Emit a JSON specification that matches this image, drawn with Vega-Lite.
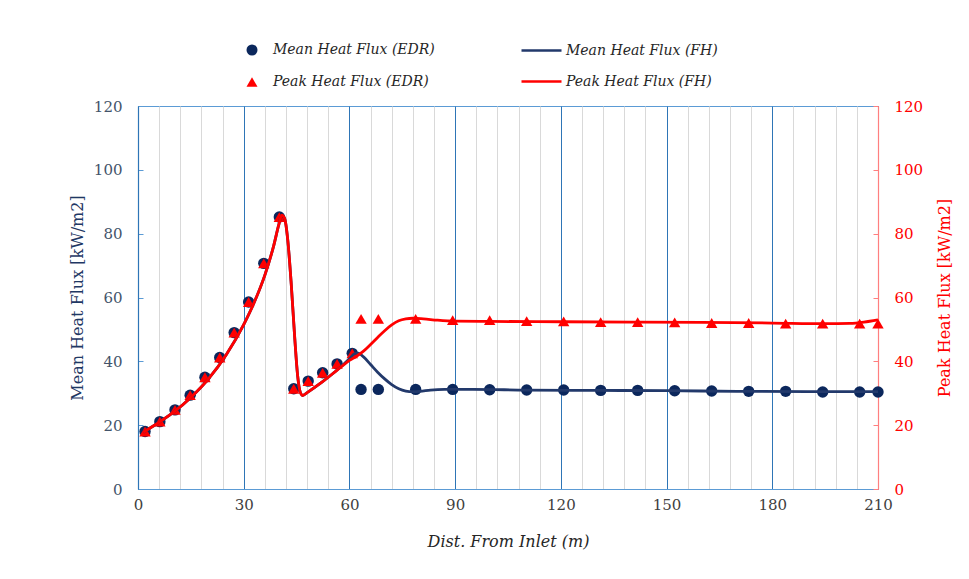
{
  "$schema": "https://vega.github.io/schema/vega-lite/v6.json",
  "width": 740,
  "height": 383,
  "autosize": "none",
  "padding": {"left": 138, "top": 106, "right": 91, "bottom": 90},
  "background": "white",
  "config": {
    "view": {"stroke": "#5B9BD5", "strokeWidth": 1},
    "font": "DejaVu Serif"
  },
  "datasets": {
    "edr": [
      {"x": 2, "y": 18, "series": "Mean Heat Flux (EDR)"},
      {"x": 6.2, "y": 21.1, "series": "Mean Heat Flux (EDR)"},
      {"x": 10.5, "y": 24.8, "series": "Mean Heat Flux (EDR)"},
      {"x": 14.8, "y": 29.4, "series": "Mean Heat Flux (EDR)"},
      {"x": 19, "y": 35, "series": "Mean Heat Flux (EDR)"},
      {"x": 23.2, "y": 41.2, "series": "Mean Heat Flux (EDR)"},
      {"x": 27.3, "y": 49, "series": "Mean Heat Flux (EDR)"},
      {"x": 31.4, "y": 58.6, "series": "Mean Heat Flux (EDR)"},
      {"x": 35.7, "y": 70.7, "series": "Mean Heat Flux (EDR)"},
      {"x": 40.1, "y": 85.2, "series": "Mean Heat Flux (EDR)"},
      {"x": 44.2, "y": 31.4, "series": "Mean Heat Flux (EDR)"},
      {"x": 48.3, "y": 33.8, "series": "Mean Heat Flux (EDR)"},
      {"x": 52.4, "y": 36.4, "series": "Mean Heat Flux (EDR)"},
      {"x": 56.5, "y": 39.2, "series": "Mean Heat Flux (EDR)"},
      {"x": 60.8, "y": 42.5, "series": "Mean Heat Flux (EDR)"},
      {"x": 63.3, "y": 31.2, "series": "Mean Heat Flux (EDR)"},
      {"x": 68.2, "y": 31.2, "series": "Mean Heat Flux (EDR)"},
      {"x": 78.8, "y": 31.2, "series": "Mean Heat Flux (EDR)"},
      {"x": 89.3, "y": 31.2, "series": "Mean Heat Flux (EDR)"},
      {"x": 99.8, "y": 31.1, "series": "Mean Heat Flux (EDR)"},
      {"x": 110.3, "y": 31, "series": "Mean Heat Flux (EDR)"},
      {"x": 120.8, "y": 31, "series": "Mean Heat Flux (EDR)"},
      {"x": 131.3, "y": 30.9, "series": "Mean Heat Flux (EDR)"},
      {"x": 141.8, "y": 30.9, "series": "Mean Heat Flux (EDR)"},
      {"x": 152.3, "y": 30.8, "series": "Mean Heat Flux (EDR)"},
      {"x": 162.8, "y": 30.7, "series": "Mean Heat Flux (EDR)"},
      {"x": 173.3, "y": 30.6, "series": "Mean Heat Flux (EDR)"},
      {"x": 183.8, "y": 30.6, "series": "Mean Heat Flux (EDR)"},
      {"x": 194.3, "y": 30.4, "series": "Mean Heat Flux (EDR)"},
      {"x": 204.8, "y": 30.4, "series": "Mean Heat Flux (EDR)"},
      {"x": 210, "y": 30.4, "series": "Mean Heat Flux (EDR)"},
      {"x": 2, "y": 18, "series": "Peak Heat Flux (EDR)"},
      {"x": 6.2, "y": 21.1, "series": "Peak Heat Flux (EDR)"},
      {"x": 10.5, "y": 24.8, "series": "Peak Heat Flux (EDR)"},
      {"x": 14.8, "y": 29.4, "series": "Peak Heat Flux (EDR)"},
      {"x": 19, "y": 35, "series": "Peak Heat Flux (EDR)"},
      {"x": 23.2, "y": 41.2, "series": "Peak Heat Flux (EDR)"},
      {"x": 27.3, "y": 49, "series": "Peak Heat Flux (EDR)"},
      {"x": 31.4, "y": 58.6, "series": "Peak Heat Flux (EDR)"},
      {"x": 35.7, "y": 70.7, "series": "Peak Heat Flux (EDR)"},
      {"x": 40.1, "y": 85.2, "series": "Peak Heat Flux (EDR)"},
      {"x": 44.2, "y": 31.4, "series": "Peak Heat Flux (EDR)"},
      {"x": 48.3, "y": 33.8, "series": "Peak Heat Flux (EDR)"},
      {"x": 52.4, "y": 36.4, "series": "Peak Heat Flux (EDR)"},
      {"x": 56.5, "y": 39.2, "series": "Peak Heat Flux (EDR)"},
      {"x": 60.8, "y": 42.5, "series": "Peak Heat Flux (EDR)"},
      {"x": 63.3, "y": 53.3, "series": "Peak Heat Flux (EDR)"},
      {"x": 68.2, "y": 53.3, "series": "Peak Heat Flux (EDR)"},
      {"x": 78.8, "y": 53.3, "series": "Peak Heat Flux (EDR)"},
      {"x": 89.3, "y": 52.9, "series": "Peak Heat Flux (EDR)"},
      {"x": 99.8, "y": 52.9, "series": "Peak Heat Flux (EDR)"},
      {"x": 110.3, "y": 52.6, "series": "Peak Heat Flux (EDR)"},
      {"x": 120.8, "y": 52.5, "series": "Peak Heat Flux (EDR)"},
      {"x": 131.3, "y": 52.3, "series": "Peak Heat Flux (EDR)"},
      {"x": 141.8, "y": 52.3, "series": "Peak Heat Flux (EDR)"},
      {"x": 152.3, "y": 52.2, "series": "Peak Heat Flux (EDR)"},
      {"x": 162.8, "y": 52, "series": "Peak Heat Flux (EDR)"},
      {"x": 173.3, "y": 52, "series": "Peak Heat Flux (EDR)"},
      {"x": 183.8, "y": 51.8, "series": "Peak Heat Flux (EDR)"},
      {"x": 194.3, "y": 51.8, "series": "Peak Heat Flux (EDR)"},
      {"x": 204.8, "y": 51.8, "series": "Peak Heat Flux (EDR)"},
      {"x": 210, "y": 51.8, "series": "Peak Heat Flux (EDR)"}
    ],
    "fh": [
      {"x": 1.5, "y": 17.8, "series": "Mean Heat Flux (FH)"},
      {"x": 5, "y": 20.2, "series": "Mean Heat Flux (FH)"},
      {"x": 10, "y": 24, "series": "Mean Heat Flux (FH)"},
      {"x": 15, "y": 28.7, "series": "Mean Heat Flux (FH)"},
      {"x": 20, "y": 34.5, "series": "Mean Heat Flux (FH)"},
      {"x": 25, "y": 42, "series": "Mean Heat Flux (FH)"},
      {"x": 30, "y": 51.5, "series": "Mean Heat Flux (FH)"},
      {"x": 33, "y": 58.5, "series": "Mean Heat Flux (FH)"},
      {"x": 36, "y": 67, "series": "Mean Heat Flux (FH)"},
      {"x": 38.5, "y": 76.2, "series": "Mean Heat Flux (FH)"},
      {"x": 40, "y": 83, "series": "Mean Heat Flux (FH)"},
      {"x": 40.8, "y": 85.8, "series": "Mean Heat Flux (FH)"},
      {"x": 41.6, "y": 84.8, "series": "Mean Heat Flux (FH)"},
      {"x": 42.5, "y": 78, "series": "Mean Heat Flux (FH)"},
      {"x": 43.5, "y": 64, "series": "Mean Heat Flux (FH)"},
      {"x": 44.5, "y": 47, "series": "Mean Heat Flux (FH)"},
      {"x": 45.3, "y": 35.5, "series": "Mean Heat Flux (FH)"},
      {"x": 46, "y": 30.5, "series": "Mean Heat Flux (FH)"},
      {"x": 46.7, "y": 29.3, "series": "Mean Heat Flux (FH)"},
      {"x": 48, "y": 30.2, "series": "Mean Heat Flux (FH)"},
      {"x": 52, "y": 33.3, "series": "Mean Heat Flux (FH)"},
      {"x": 56, "y": 36.8, "series": "Mean Heat Flux (FH)"},
      {"x": 58, "y": 38.7, "series": "Mean Heat Flux (FH)"},
      {"x": 60, "y": 40.8, "series": "Mean Heat Flux (FH)"},
      {"x": 61.5, "y": 42.4, "series": "Mean Heat Flux (FH)"},
      {"x": 62.5, "y": 42.6, "series": "Mean Heat Flux (FH)"},
      {"x": 64, "y": 41.4, "series": "Mean Heat Flux (FH)"},
      {"x": 66, "y": 39, "series": "Mean Heat Flux (FH)"},
      {"x": 68, "y": 36.6, "series": "Mean Heat Flux (FH)"},
      {"x": 70, "y": 34.5, "series": "Mean Heat Flux (FH)"},
      {"x": 72, "y": 32.7, "series": "Mean Heat Flux (FH)"},
      {"x": 74, "y": 31.4, "series": "Mean Heat Flux (FH)"},
      {"x": 76, "y": 30.7, "series": "Mean Heat Flux (FH)"},
      {"x": 78, "y": 30.5, "series": "Mean Heat Flux (FH)"},
      {"x": 80, "y": 30.6, "series": "Mean Heat Flux (FH)"},
      {"x": 83, "y": 31, "series": "Mean Heat Flux (FH)"},
      {"x": 87, "y": 31.2, "series": "Mean Heat Flux (FH)"},
      {"x": 95, "y": 31.2, "series": "Mean Heat Flux (FH)"},
      {"x": 110, "y": 31, "series": "Mean Heat Flux (FH)"},
      {"x": 130, "y": 30.9, "series": "Mean Heat Flux (FH)"},
      {"x": 150, "y": 30.8, "series": "Mean Heat Flux (FH)"},
      {"x": 170, "y": 30.6, "series": "Mean Heat Flux (FH)"},
      {"x": 190, "y": 30.5, "series": "Mean Heat Flux (FH)"},
      {"x": 210, "y": 30.5, "series": "Mean Heat Flux (FH)"},
      {"x": 1.5, "y": 17.8, "series": "Peak Heat Flux (FH)"},
      {"x": 5, "y": 20.2, "series": "Peak Heat Flux (FH)"},
      {"x": 10, "y": 24, "series": "Peak Heat Flux (FH)"},
      {"x": 15, "y": 28.7, "series": "Peak Heat Flux (FH)"},
      {"x": 20, "y": 34.5, "series": "Peak Heat Flux (FH)"},
      {"x": 25, "y": 42, "series": "Peak Heat Flux (FH)"},
      {"x": 30, "y": 51.5, "series": "Peak Heat Flux (FH)"},
      {"x": 33, "y": 58.5, "series": "Peak Heat Flux (FH)"},
      {"x": 36, "y": 67, "series": "Peak Heat Flux (FH)"},
      {"x": 38.5, "y": 76.2, "series": "Peak Heat Flux (FH)"},
      {"x": 40, "y": 83, "series": "Peak Heat Flux (FH)"},
      {"x": 40.8, "y": 85.8, "series": "Peak Heat Flux (FH)"},
      {"x": 41.6, "y": 84.8, "series": "Peak Heat Flux (FH)"},
      {"x": 42.5, "y": 78, "series": "Peak Heat Flux (FH)"},
      {"x": 43.5, "y": 64, "series": "Peak Heat Flux (FH)"},
      {"x": 44.5, "y": 47, "series": "Peak Heat Flux (FH)"},
      {"x": 45.3, "y": 35.5, "series": "Peak Heat Flux (FH)"},
      {"x": 46, "y": 30.5, "series": "Peak Heat Flux (FH)"},
      {"x": 46.7, "y": 29.3, "series": "Peak Heat Flux (FH)"},
      {"x": 48, "y": 30.2, "series": "Peak Heat Flux (FH)"},
      {"x": 52, "y": 33.3, "series": "Peak Heat Flux (FH)"},
      {"x": 56, "y": 36.8, "series": "Peak Heat Flux (FH)"},
      {"x": 58, "y": 38.6, "series": "Peak Heat Flux (FH)"},
      {"x": 60, "y": 40.3, "series": "Peak Heat Flux (FH)"},
      {"x": 62, "y": 41.6, "series": "Peak Heat Flux (FH)"},
      {"x": 64, "y": 43.2, "series": "Peak Heat Flux (FH)"},
      {"x": 66, "y": 45.3, "series": "Peak Heat Flux (FH)"},
      {"x": 68, "y": 47.5, "series": "Peak Heat Flux (FH)"},
      {"x": 70, "y": 49.6, "series": "Peak Heat Flux (FH)"},
      {"x": 72, "y": 51.4, "series": "Peak Heat Flux (FH)"},
      {"x": 74, "y": 52.7, "series": "Peak Heat Flux (FH)"},
      {"x": 76, "y": 53.3, "series": "Peak Heat Flux (FH)"},
      {"x": 78, "y": 53.5, "series": "Peak Heat Flux (FH)"},
      {"x": 81, "y": 53.3, "series": "Peak Heat Flux (FH)"},
      {"x": 85, "y": 52.9, "series": "Peak Heat Flux (FH)"},
      {"x": 90, "y": 52.6, "series": "Peak Heat Flux (FH)"},
      {"x": 100, "y": 52.5, "series": "Peak Heat Flux (FH)"},
      {"x": 120, "y": 52.4, "series": "Peak Heat Flux (FH)"},
      {"x": 140, "y": 52.3, "series": "Peak Heat Flux (FH)"},
      {"x": 160, "y": 52.2, "series": "Peak Heat Flux (FH)"},
      {"x": 180, "y": 52, "series": "Peak Heat Flux (FH)"},
      {"x": 195, "y": 51.8, "series": "Peak Heat Flux (FH)"},
      {"x": 202, "y": 51.9, "series": "Peak Heat Flux (FH)"},
      {"x": 206, "y": 52.3, "series": "Peak Heat Flux (FH)"},
      {"x": 210, "y": 53, "series": "Peak Heat Flux (FH)"}
    ]
  },
  "encoding": {
    "x": {
      "field": "x",
      "type": "quantitative",
      "scale": {"domain": [0, 210], "nice": false, "zero": false},
      "axis": {
        "title": "Dist. From Inlet (m)",
        "values": [0, 6, 12, 18, 24, 30, 36, 42, 48, 54, 60, 66, 72, 78, 84, 90, 96, 102, 108, 114, 120, 126, 132, 138, 144, 150, 156, 162, 168, 174, 180, 186, 192, 198, 204, 210],
        "labelExpr": "datum.value % 30 === 0 ? datum.label : ''",
        "grid": true,
        "gridColor": {"condition": {"test": "datum.value % 30 === 0", "value": "#2E75B6"}, "value": "#D9D9D9"},
        "gridWidth": 1,
        "ticks": false,
        "domainColor": "#5B9BD5",
        "domainWidth": 1.2,
        "labelFont": "DejaVu Serif",
        "labelFontSize": 15,
        "labelColor": "#404040",
        "labelPadding": 8,
        "labelFlush": false,
        "labelOverlap": false,
        "titleFont": "DejaVu Serif",
        "titleFontStyle": "italic",
        "titleFontWeight": "normal",
        "titleFontSize": 16,
        "titleColor": "#262626",
        "titleX": 370,
        "titleY": 52,
        "titleBaseline": "middle",
        "titleAlign": "center"
      }
    }
  },
  "layer": [
    {
      "data": {"name": "edr"},
      "mark": {"type": "point", "filled": true, "opacity": 1, "size": 130},
      "encoding": {
        "y": {
          "field": "y",
          "type": "quantitative",
          "scale": {"domain": [0, 120], "nice": false},
          "axis": {
            "orient": "left",
            "title": "Mean Heat Flux [kW/m2]",
            "values": [0, 20, 40, 60, 80, 100, 120],
            "grid": false,
            "domainColor": "#2E75B6",
            "domainWidth": 1.2,
            "tickColor": "#5B9BD5",
            "tickSize": -5,
            "labelPadding": 21,
            "labelFont": "DejaVu Serif",
            "labelFontSize": 15,
            "labelColor": "#44546A",
            "titleFont": "DejaVu Serif",
            "titleFontWeight": "normal",
            "titleFontSize": 16,
            "titleColor": "#1F3864",
            "titleAngle": 270,
            "titleX": -61,
            "titleY": 191.5,
            "titleBaseline": "middle",
            "titleAlign": "center"
          }
        },
        "fill": {
          "field": "series",
          "type": "nominal",
          "scale": {"domain": ["Mean Heat Flux (EDR)", "Peak Heat Flux (EDR)"], "range": ["#0B275C", "#FF0000"]},
          "legend": {
            "title": null,
            "orient": "none",
            "legendX": 107,
            "legendY": -63,
            "direction": "vertical",
            "labelFont": "DejaVu Serif",
            "labelFontStyle": "italic",
            "labelFontSize": 14,
            "labelColor": "#262626",
            "labelLimit": 300,
            "symbolSize": 121,
            "rowPadding": 15,
            "labelOffset": 14
          }
        },
        "shape": {
          "field": "series",
          "type": "nominal",
          "scale": {"domain": ["Mean Heat Flux (EDR)", "Peak Heat Flux (EDR)"], "range": ["circle", "triangle-up"]},
          "legend": {
            "title": null,
            "orient": "none",
            "legendX": 107,
            "legendY": -63,
            "direction": "vertical",
            "labelFont": "DejaVu Serif",
            "labelFontStyle": "italic",
            "labelFontSize": 14,
            "labelColor": "#262626",
            "labelLimit": 300,
            "symbolSize": 121,
            "rowPadding": 15,
            "labelOffset": 14
          }
        }
      }
    },
    {
      "data": {"name": "fh"},
      "mark": {"type": "line", "interpolate": "monotone", "strokeWidth": 2.8},
      "encoding": {
        "y": {
          "field": "y",
          "type": "quantitative",
          "scale": {"domain": [0, 120], "nice": false},
          "axis": {
            "orient": "right",
            "title": "Peak Heat Flux [kW/m2]",
            "values": [0, 20, 40, 60, 80, 100, 120],
            "grid": false,
            "domainColor": "#FF7F7F",
            "domainWidth": 1.2,
            "tickColor": "#FF7F7F",
            "tickSize": -5,
            "labelPadding": 21,
            "labelFont": "DejaVu Serif",
            "labelFontSize": 15,
            "labelColor": "#FF0000",
            "titleFont": "DejaVu Serif",
            "titleFontWeight": "normal",
            "titleFontSize": 16,
            "titleColor": "#FF0000",
            "titleAngle": 270,
            "titleX": 66,
            "titleY": 191.5,
            "titleBaseline": "middle",
            "titleAlign": "center"
          }
        },
        "stroke": {
          "field": "series",
          "type": "nominal",
          "scale": {"domain": ["Mean Heat Flux (FH)", "Peak Heat Flux (FH)"], "range": ["#22396B", "#FF0000"]},
          "legend": {
            "title": null,
            "orient": "none",
            "legendX": 382,
            "legendY": -77,
            "direction": "vertical",
            "symbolType": "stroke",
            "symbolSize": 1600,
            "symbolStrokeWidth": 2.5,
            "labelFont": "DejaVu Serif",
            "labelFontStyle": "italic",
            "labelFontSize": 14,
            "labelColor": "#262626",
            "labelLimit": 300,
            "rowPadding": 2,
            "labelOffset": 3
          }
        }
      }
    }
  ],
  "resolve": {"scale": {"y": "independent"}}
}
